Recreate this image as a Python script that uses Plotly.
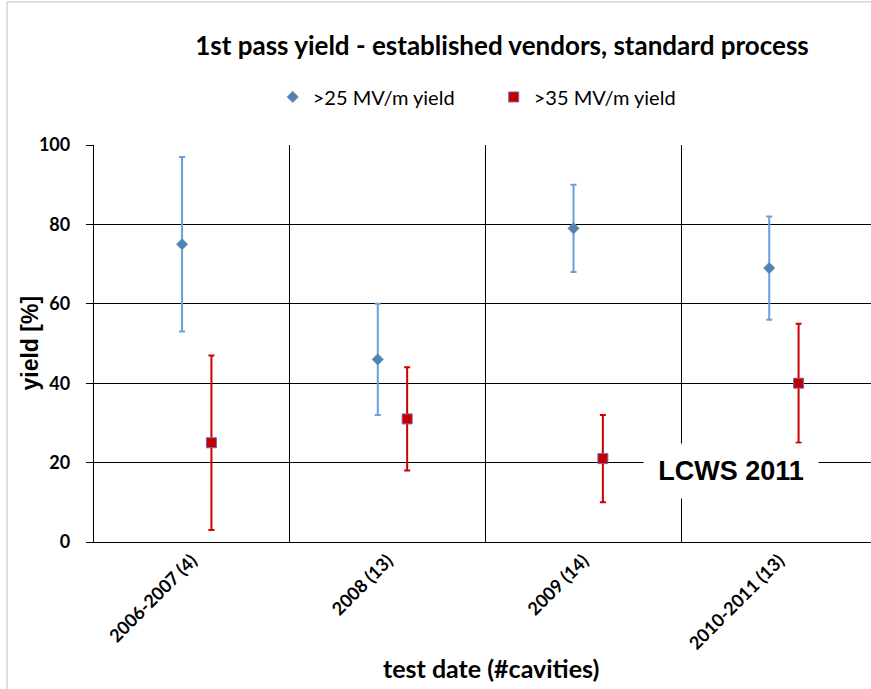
import plotly.graph_objects as go

categories = ["2006-2007 (4)", "2008 (13)", "2009 (14)", "2010-2011 (13)"]
yield25 = [75, 46, 79, 69]
yield25_hi = [97, 60, 90, 82]
yield25_lo = [53, 32, 68, 56]
yield35 = [25, 31, 21, 40]
yield35_hi = [47, 44, 32, 55]
yield35_lo = [3, 18, 10, 25]
y_ticks = [0, 20, 40, 60, 80, 100]

idx = list(range(len(categories)))
OFF25, OFF35 = -0.05, 0.10

fig = go.Figure()
fig.add_trace(go.Scatter(
    x=[i + OFF25 for i in idx], y=yield25, mode="markers", name=">25 MV/m yield",
    marker=dict(symbol="diamond", size=9, color="#4F81BD", line=dict(color="#8DB36B", width=0.5)),
    error_y=dict(type="data", symmetric=False,
                 array=[h - v for h, v in zip(yield25_hi, yield25)],
                 arrayminus=[v - l for v, l in zip(yield25, yield25_lo)],
                 color="#6A9EDC", thickness=2, width=3),
))
fig.add_trace(go.Scatter(
    x=[i + OFF35 for i in idx], y=yield35, mode="markers", name=">35 MV/m yield",
    marker=dict(symbol="square", size=10, color="#C00000", line=dict(color="#8064A2", width=1)),
    error_y=dict(type="data", symmetric=False,
                 array=[h - v for h, v in zip(yield35_hi, yield35)],
                 arrayminus=[v - l for v, l in zip(yield35, yield35_lo)],
                 color="#CC0000", thickness=2, width=3),
))

fig.update_layout(
    width=871, height=689,
    margin=dict(l=94, r=0, t=145, b=147),
    paper_bgcolor="white", plot_bgcolor="white",
    font=dict(family="Lato", color="black"),
    title=dict(text="<b>1st pass yield - established vendors, standard process</b>",
               x=502 / 871, xref="container", xanchor="center",
               y=1 - 46 / 689, yref="container", yanchor="middle",
               font=dict(family="Lato", size=26, color="black")),
    legend=dict(orientation="h", x=0.23, xanchor="left", y=1.121, yanchor="middle",
                font=dict(family="Lato", size=20, color="black"),
                entrywidth=176, entrywidthmode="pixels", itemwidth=30),
    showlegend=True,
)
fig.update_xaxes(
    range=[-0.5, 3.47], tickmode="array", tickvals=idx,
    ticktext=["<b>%s</b>" % c for c in categories],
    tickangle=-45, tickfont=dict(family="Lato", size=18, color="black"),
    showgrid=False, zeroline=False, showline=True, linecolor="black", linewidth=1.3,
    ticks="",
    minor=dict(tickmode="array", tickvals=[0.5, 1.5, 2.5], showgrid=True,
               gridcolor="black", gridwidth=1.3, ticks=""),
)
fig.update_yaxes(
    range=[0, 100], tickmode="array", tickvals=y_ticks,
    ticktext=["<b>%d</b>" % t for t in y_ticks],
    tickfont=dict(family="Lato", size=18, color="black"),
    showgrid=True, gridcolor="black", gridwidth=1.3, zeroline=False,
    showline=True, linecolor="black", linewidth=1.3,
    ticks="outside", ticklen=7, tickcolor="black", tickwidth=1.3,
    ticklabelstandoff=12,
)

# axis titles
fig.add_annotation(
    x=(29 - 94) / 777, y=0.5, xref="paper", yref="paper", text="<b>yield [%]</b>",
    textangle=-90, showarrow=False, xanchor="center", yanchor="middle",
    font=dict(family="Liberation Sans", size=23, color="black"),
)
fig.add_annotation(
    x=(491 - 94) / 777, y=(541.7 - 668) / 396.7, xref="paper", yref="paper",
    text="<b>test date (#cavities)</b>", showarrow=False, xanchor="center", yanchor="middle",
    font=dict(family="Lato", size=25, color="black"),
)

fig.add_annotation(
    x=2.755, y=17.8, xref="x", yref="y", text="<b>LCWS 2011</b>", showarrow=False,
    font=dict(family="Liberation Sans", size=27, color="black"),
    bgcolor="white", width=172, height=52, xanchor="center", yanchor="middle",
)

# outer chart-area border (top and left edges visible)
fig.add_shape(type="line", xref="paper", yref="paper", x0=(7 - 94) / 777, x1=1.2,
              y0=(541.7 - 2) / 396.7, y1=(541.7 - 2) / 396.7, line=dict(color="#BFBFBF", width=1))
fig.add_shape(type="line", xref="paper", yref="paper", x0=(7 - 94) / 777, x1=(7 - 94) / 777,
              y0=(541.7 - 2) / 396.7, y1=-0.5, line=dict(color="#BFBFBF", width=1))

fig.write_html("out.html", config={"displayModeBar": False},
               post_script="document.body.style.margin='0';document.body.style.overflow='hidden';")
